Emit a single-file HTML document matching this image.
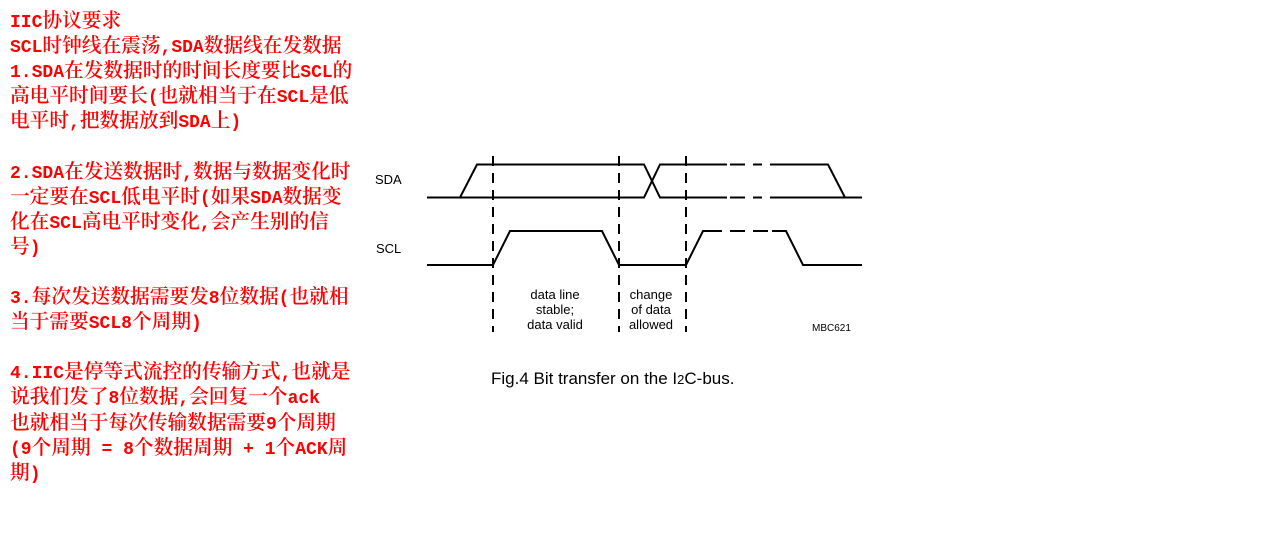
<!DOCTYPE html>
<html><head><meta charset="utf-8"><style>
body{margin:0;width:1265px;height:554px;background:#fff;overflow:hidden;position:relative}
.t{position:absolute;left:10px;top:6px;color:#f00;font-family:"Noto Serif CJK SC",serif;font-size:19.7px;font-weight:600}
.t div{height:25.1px;line-height:25.1px;overflow:visible;white-space:pre}
.t i{font-style:normal;font-family:"Liberation Mono",monospace;font-size:18px;font-weight:bold;line-height:1}
svg{position:absolute;left:0;top:0}
</style></head><body>
<div class="t">
<div><i>IIC</i>协议要求</div>
<div><i>SCL</i>时钟线在震荡<i>,SDA</i>数据线在发数据</div>
<div><i>1.SDA</i>在发数据时的时间长度要比<i>SCL</i>的</div>
<div>高电平时间要长<i>(</i>也就相当于在<i>SCL</i>是低</div>
<div>电平时<i>,</i>把数据放到<i>SDA</i>上<i>)</i></div>
<div></div>
<div><i>2.SDA</i>在发送数据时<i>,</i>数据与数据变化时</div>
<div>一定要在<i>SCL</i>低电平时<i>(</i>如果<i>SDA</i>数据变</div>
<div>化在<i>SCL</i>高电平时变化<i>,</i>会产生别的信</div>
<div>号<i>)</i></div>
<div></div>
<div><i>3.</i>每次发送数据需要发<i>8</i>位数据<i>(</i>也就相</div>
<div>当于需要<i>SCL8</i>个周期<i>)</i></div>
<div></div>
<div><i>4.IIC</i>是停等式流控的传输方式<i>,</i>也就是</div>
<div>说我们发了<i>8</i>位数据<i>,</i>会回复一个<i>ack</i></div>
<div>也就相当于每次传输数据需要<i>9</i>个周期</div>
<div><i>(9</i>个周期<i> = 8</i>个数据周期<i> + 1</i>个<i>ACK</i>周</div>
<div>期<i>)</i></div>
</div>
<svg width="1265" height="554" font-family="Liberation Sans, Arial, sans-serif">
<g stroke="#000" stroke-width="2" fill="none">
<polyline points="427,197.5 460,197.5 477,164.5 644,164.5 660,197.5 727,197.5"/>
<polyline points="427,197.5 644,197.5 660,164.5 727,164.5"/>
<line x1="730" y1="164.5" x2="745" y2="164.5"/><line x1="753" y1="164.5" x2="762" y2="164.5"/>
<line x1="730" y1="197.5" x2="745" y2="197.5"/><line x1="753" y1="197.5" x2="762" y2="197.5"/>
<polyline points="770,164.5 828,164.5 845,197.5"/>
<line x1="770" y1="197.5" x2="862" y2="197.5"/>
<polyline points="427,265 493,265 510,231 602,231 619,265 686,265 703,231 722,231"/>
<line x1="730" y1="231" x2="745" y2="231"/><line x1="753" y1="231" x2="768" y2="231"/>
<polyline points="772,231 786,231 803,265 862,265"/>
<g stroke-dasharray="10,7"><line x1="493" y1="156" x2="493" y2="332"/><line x1="619" y1="156" x2="619" y2="332"/><line x1="686" y1="156" x2="686" y2="332"/></g>
</g>
<g font-size="13" fill="#000">
<text x="375" y="184">SDA</text><text x="376" y="253">SCL</text>
<g text-anchor="middle"><text x="555" y="299">data line</text><text x="555" y="314">stable;</text><text x="555" y="329">data valid</text>
<text x="651" y="299">change</text><text x="651" y="314">of data</text><text x="651" y="329">allowed</text></g>
<text x="812" y="331" font-size="10">MBC621</text>
</g>
<text x="491" y="384" font-size="17">Fig.4 Bit transfer on the I<tspan font-size="13">2</tspan>C-bus.</text>
</svg>
</body></html>
